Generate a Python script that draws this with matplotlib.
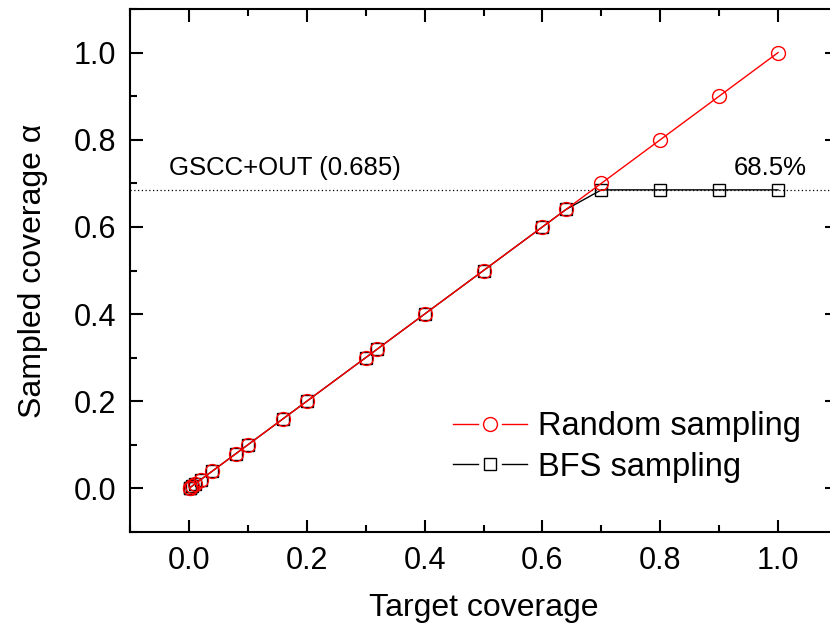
import matplotlib
matplotlib.use("Agg")
import matplotlib.pyplot as plt
from matplotlib.ticker import MultipleLocator
from matplotlib.lines import Line2D
from matplotlib.legend_handler import HandlerTuple

plt.rcParams['font.family'] = ['Liberation Sans', 'DejaVu Sans']

target = [0.001, 0.002, 0.005, 0.01, 0.02, 0.04, 0.08, 0.1, 0.16, 0.2,
          0.3, 0.32, 0.4, 0.5, 0.6, 0.64, 0.7, 0.8, 0.9, 1.0]
random_cov = [0.001, 0.002, 0.005, 0.01, 0.02, 0.04, 0.08, 0.1, 0.16, 0.2,
              0.3, 0.32, 0.4, 0.5, 0.6, 0.64, 0.7, 0.8, 0.9, 1.0]
bfs_cov = [0.001, 0.002, 0.005, 0.01, 0.02, 0.04, 0.08, 0.1, 0.16, 0.2,
           0.3, 0.32, 0.4, 0.5, 0.6, 0.64, 0.685, 0.685, 0.685, 0.685]
gscc_out = 0.685

RED = '#ff0000'
fig = plt.figure(figsize=(8.3, 6.28), dpi=100)
ax = fig.add_axes([130/830, 96/628, 707/830, 523/628])

ax.axhline(gscc_out, color='black', linestyle=(0, (1, 2)), linewidth=0.9, zorder=1)

ax.plot(target, bfs_cov, color='black', linewidth=1.0, marker='s', markersize=8,
        markerfacecolor='none', markeredgecolor='black', markeredgewidth=1.0, zorder=2)
ax.plot(target, random_cov, color=RED, linewidth=1.0, marker='o', markersize=10,
        markerfacecolor='none', markeredgecolor=RED, markeredgewidth=1.0, zorder=3)

ax.set_xlim(-0.1, 1.1)
ax.set_ylim(-0.1, 1.1)
ax.xaxis.set_minor_locator(MultipleLocator(0.1))
ax.yaxis.set_minor_locator(MultipleLocator(0.1))
ax.set_xticks([0.0, 0.2, 0.4, 0.6, 0.8, 1.0])
ax.set_xticklabels(['0.0', '0.2', '0.4', '0.6', '0.8', '1.0'])
ax.set_yticks([0.0, 0.2, 0.4, 0.6, 0.8, 1.0])
ax.set_yticklabels(['0.0', '0.2', '0.4', '0.6', '0.8', '1.0'])
ax.tick_params(which='both', direction='in', top=True, right=True, width=1.5)
ax.tick_params(which='major', length=9, labelsize=22, pad=10)
ax.tick_params(which='minor', length=5)
for s in ax.spines.values():
    s.set_linewidth(1.5)

ax.set_xlabel('Target coverage', fontsize=23, labelpad=12)
ax.set_ylabel('Sampled coverage α', fontsize=23, labelpad=18)

ax.text(-0.034, 0.735, 'GSCC+OUT (0.685)', fontsize=18.5, va='center', ha='left')
ax.text(0.925, 0.735, '68.5%', fontsize=18.5, va='center', ha='left')

def split_handle(color, marker, ms):
    seg = Line2D([], [], color=color, linewidth=1.0)
    mk = Line2D([], [], color=color, linestyle='none', marker=marker, markersize=ms,
                markerfacecolor='none', markeredgecolor=color, markeredgewidth=1.0)
    return (seg, mk, seg)

handles = [split_handle(RED, 'o', 10), split_handle('black', 's', 8)]
labels = ['Random sampling', 'BFS sampling']
ax.legend(handles, labels, handler_map={tuple: HandlerTuple(ndivide=3, pad=0)},
          loc='upper left', bbox_to_anchor=(453/830, 1 - 411/628),
          bbox_transform=fig.transFigure, frameon=False, fontsize=23.5,
          handlelength=2.27, handletextpad=0.34, labelspacing=0.3,
          borderpad=0, borderaxespad=0)

fig.savefig('out.png', dpi=100)
